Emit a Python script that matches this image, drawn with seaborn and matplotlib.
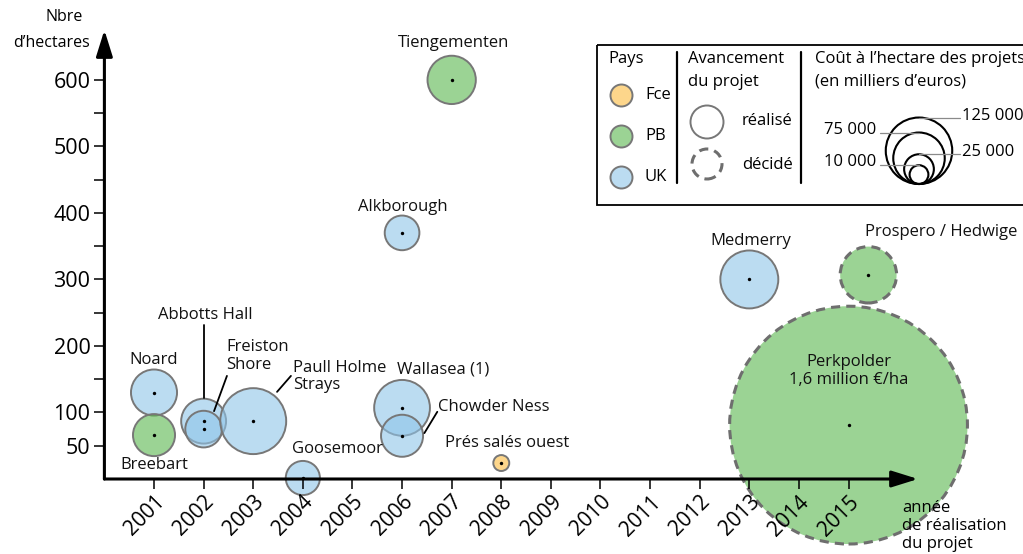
import numpy as np
import pandas as pd
import matplotlib
matplotlib.use("Agg")
import matplotlib.pyplot as plt
import seaborn as sns
from matplotlib.patches import Rectangle

# ---- Données -------------------------------------------------------------
projets = ["Noard", "Breebart", "Abbotts Hall", "Freiston Shore", "Paull Holme Strays",
           "Goosemoor", "Wallasea (1)", "Chowder Ness", "Alkborough", "Tiengementen",
           "Prés salés ouest", "Medmerry", "Prospero / Hedwige", "Perkpolder"]
pays = ["UK", "PB", "UK", "UK", "UK", "UK", "UK", "UK", "UK", "PB", "Fce", "UK", "PB", "PB"]
annees = [2001, 2001, 2002, 2002, 2003, 2004, 2006, 2006, 2006, 2007, 2008, 2013, 2015.4, 2015]
hectares = [130, 66, 87, 75, 87, 1.5, 107, 65, 370, 600, 24, 300, 307, 81]
cout_ha = [60000, 50000, 57000, 38000, 123000, 33000, 88000, 50000, 34000, 66000,
           7200, 95000, 90000, 1600000]
avancement = ["réalisé"] * 12 + ["décidé", "décidé"]

annees_axe = list(range(2001, 2016))
yticks = list(range(50, 601, 50))
ytick_labels = ["50", "100", "", "200", "", "300", "", "400", "", "500", "", "600"]

legende_pays = ["Fce", "PB", "UK"]
legende_couts = [125000, 75000, 25000, 10000]
legende_couts_txt = ["125 000", "75 000", "25 000", "10 000"]

df = pd.DataFrame({"projet": projets, "pays": pays, "annee": annees, "hectares": hectares,
                   "cout": cout_ha, "avancement": avancement})

# ---- Style ---------------------------------------------------------------
sns.set_theme(style="white")
plt.rcParams["font.family"] = ["Open Sans", "DejaVu Sans"]
plt.rcParams["text.color"] = "black"
plt.rcParams["xtick.color"] = "black"
plt.rcParams["ytick.color"] = "black"

palette = {"Fce": "#fcbb3e", "PB": "#58b64d", "UK": "#8fc5e9"}
ALPHA = 0.6
GRIS = "#777777"

# bubble area proportional to cost: radius (px) = K * sqrt(cost)
K_PX = 0.094
PT = 0.72  # points per pixel at 100 dpi


def aire_pt2(c):
    return (2 * K_PX * np.sqrt(c) * PT) ** 2


C_MAX = max(cout_ha)
S_MAX = aire_pt2(C_MAX)

W, H = 1023, 554
fig = plt.figure(figsize=(W / 100, H / 100), dpi=100)
x0, x1 = 104.4, 918.0
y_axe, y_top = 479.0, 30.0
ax = fig.add_axes([x0 / W, (H - y_axe) / H, (x1 - x0) / W, (y_axe - y_top) / H])
ax.set_xlim(2000, 2016.4)
ax.set_ylim(0, 675)
ax.set_axisbelow(False)
for s in ax.spines.values():
    s.set_visible(False)
ax.patch.set_alpha(0)


def translucide(coll):
    fc = coll.get_facecolors().copy()
    fc[:, 3] = ALPHA
    coll.set_facecolors(fc)
    coll.set_clip_on(False)


# decided projects first (underneath), dashed outline
dec = df[df["avancement"] == "décidé"]
sns.scatterplot(data=dec, x="annee", y="hectares", hue="pays", size="cout",
                sizes=(0, S_MAX), size_norm=(0, C_MAX), palette=palette, legend=False,
                edgecolor="#6e6e6e", linewidth=2.2, linestyle=(0, (3, 2)), ax=ax, zorder=1)
translucide(ax.collections[-1])

rea = df[df["avancement"] == "réalisé"]
sns.scatterplot(data=rea, x="annee", y="hectares", hue="pays", size="cout",
                sizes=(0, S_MAX), size_norm=(0, C_MAX), palette=palette, legend=False,
                edgecolor=GRIS, linewidth=1.4, ax=ax, zorder=1.2)
translucide(ax.collections[-1])

# centre dots
sns.scatterplot(data=df, x="annee", y="hectares", color="black", s=6, linewidth=0,
                legend=False, ax=ax, zorder=3)
ax.collections[-1].set_clip_on(False)

# ---- Axes with arrows ----------------------------------------------------
arrow = dict(arrowstyle="-|>,head_length=1.6,head_width=0.5", lw=2.2, color="black",
             shrinkA=0, shrinkB=0, mutation_scale=10)
ax.annotate("", xy=(1, 0), xytext=(0, 0), xycoords="axes fraction",
            arrowprops=arrow, annotation_clip=False, zorder=5)
ax.annotate("", xy=(0, 1), xytext=(0, 0), xycoords="axes fraction",
            arrowprops=arrow, annotation_clip=False, zorder=5)

ax.set_xticks(annees_axe)
ax.set_xticklabels([str(a) for a in annees_axe], rotation=45, ha="right",
                   rotation_mode="anchor", fontsize=15)
ax.set_yticks(yticks)
ax.set_yticklabels(ytick_labels, fontsize=15.5)
ax.tick_params(axis="x", direction="out", length=7, width=1.1, color="black", pad=2,
               bottom=True, labelcolor="black")
ax.tick_params(axis="y", direction="out", length=7, width=1.1, color="black", pad=3,
               left=True, labelcolor="black")
ax.set_xlabel("")
ax.set_ylabel("")

# ---- Project labels ------------------------------------------------------
FS = 12
etiquettes = {
    "Noard": (2001.0, 179, "center"),
    "Breebart": (2001.0, 21, "center"),
    "Abbotts Hall": (2002.03, 247, "center"),
    "Freiston\nShore": (2002.45, 185, "left"),
    "Paull Holme\nStrays": (2003.8, 154, "left"),
    "Goosemoor": (2004.69, 45, "center"),
    "Wallasea (1)": (2005.9, 164, "left"),
    "Chowder Ness": (2006.73, 108, "left"),
    "Prés salés ouest": (2006.87, 54, "left"),
    "Tiengementen": (2007.03, 656, "center"),
    "Alkborough": (2006.02, 409, "center"),
    "Medmerry": (2013.02, 358, "center"),
    "Prospero / Hedwige": (2016.86, 371, "center"),
    "Perkpolder\n1,6 million €/ha": (2015.0, 162, "center"),
}
for txt, (xx, yy, ha) in etiquettes.items():
    ax.text(xx, yy, txt, ha=ha, va="center", fontsize=FS, linespacing=1.15,
            color="#111111", zorder=6)

guides = [((2002.01, 232), (2002.01, 122)),
          ((2002.47, 155), (2002.21, 102)),
          ((2003.76, 155), (2003.48, 131)),
          ((2006.71, 101), (2006.45, 69))]
for (xa, ya), (xb, yb) in guides:
    ax.plot([xa, xb], [ya, yb], color="black", lw=1.3, zorder=6)

# ---- Overlay in pixel space: axis titles and legend ----------------------
lg = fig.add_axes([0, 0, 1, 1], zorder=10)
lg.set_xlim(0, W)
lg.set_ylim(H, 0)
lg.axis("off")
lg.patch.set_alpha(0)

lg.text(64, 17, "Nbre", ha="center", va="center", fontsize=11.5)
lg.text(51, 43, "d’hectares", ha="center", va="center", fontsize=11.5)
lg.text(902, 526, "année\nde réalisation\ndu projet", ha="left", va="center",
        fontsize=12, linespacing=1.2)

lg.add_patch(Rectangle((597, 45), 460, 160, fill=False, edgecolor="black", lw=1.3))
for xs in (677, 801):
    lg.plot([xs, xs], [52, 183], color="black", lw=1.6)

lg.text(608, 59, "Pays", ha="left", va="center", fontsize=FS)
for p, yy in zip(legende_pays, (95, 136, 177)):
    sc = lg.scatter([621], [yy], s=(22 * PT) ** 2, color=palette[p],
                    edgecolor=GRIS, linewidth=1.4)
    translucide(sc)
    lg.text(645, yy, p, ha="left", va="center", fontsize=FS)

lg.text(688, 59, "Avancement", ha="left", va="center", fontsize=FS)
lg.text(688, 82, "du projet", ha="left", va="center", fontsize=FS)
lg.scatter([707], [122], s=(33 * PT) ** 2, facecolor="none", edgecolor=GRIS, linewidth=1.4)
lg.scatter([707], [164], s=(30 * PT) ** 2, facecolor="none", edgecolor="#6e6e6e",
           linewidth=2.2, linestyle=(0, (3, 2)))
lg.text(742, 121, "réalisé", ha="left", va="center", fontsize=FS)
lg.text(742, 165, "décidé", ha="left", va="center", fontsize=FS)

lg.text(815, 59, "Coût à l’hectare des projets", ha="left", va="center", fontsize=FS)
lg.text(815, 81, "(en milliers d’euros)", ha="left", va="center", fontsize=FS)

cx, base = 919, 184
for i, (c, t) in enumerate(zip(legende_couts, legende_couts_txt)):
    r = K_PX * np.sqrt(c)
    lg.scatter([cx], [base - r], s=aire_pt2(c), facecolor="none", edgecolor="black",
               linewidth=1.5)
    yt = base - 2 * r
    if i % 2 == 0:
        lg.plot([cx, 960], [yt, yt], color="#8a8a8a", lw=0.9)
        lg.text(962, yt - 2, t, ha="left", va="center", fontsize=FS)
    else:
        lg.plot([880, cx], [yt, yt], color="#8a8a8a", lw=0.9)
        lg.text(876, yt - 3, t, ha="right", va="center", fontsize=FS)

fig.savefig("out.png", dpi=100)
